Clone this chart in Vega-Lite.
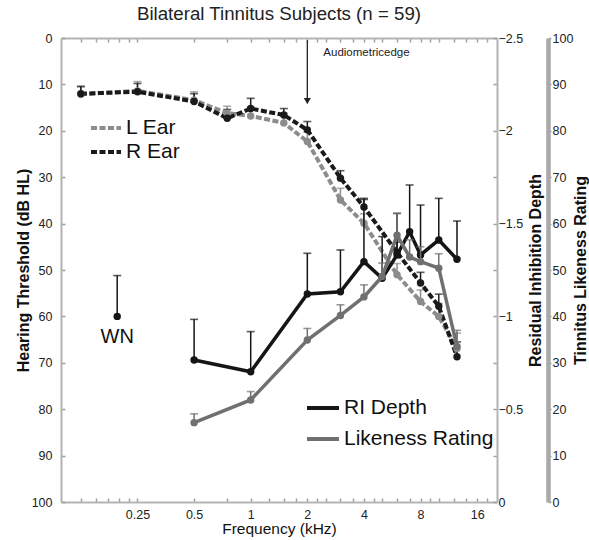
{
  "$schema": "https://vega.github.io/schema/vega-lite/v6.json",
  "width": 436,
  "height": 464,
  "autosize": {"type": "none"},
  "padding": {"left": 61, "top": 38, "right": 92, "bottom": 38},
  "background": "white",
  "title": {"text": "Bilateral Tinnitus Subjects (n = 59)", "fontSize": 18.7, "fontWeight": "normal", "font": "Liberation Sans", "color": "#222", "anchor": "middle", "frame": "group", "baseline": "bottom", "offset": -11},
  "config": {
    "view": {"stroke": null},
    "font": "Liberation Sans",
    "axis": {"grid": false, "domainColor": "#b3b3b3", "domainWidth": 2, "tickColor": "#a0a0a0", "tickWidth": 1.5, "labelColor": "#222", "titleColor": "#111", "labelFont": "Liberation Sans", "titleFont": "Liberation Sans"},
    "legend": {"labelFont": "Liberation Sans"}
  },
  "datasets": {
    "hear": [
      {"freq": 0.125, "ear": "L Ear", "thr": 12.1, "err": 10.3},
      {"freq": 0.25, "ear": "L Ear", "thr": 11.4, "err": 9.4},
      {"freq": 0.5, "ear": "L Ear", "thr": 13.4, "err": 11.6},
      {"freq": 0.75, "ear": "L Ear", "thr": 16.2, "err": 14.7},
      {"freq": 1, "ear": "L Ear", "thr": 16.8, "err": 14.9},
      {"freq": 1.5, "ear": "L Ear", "thr": 18.3, "err": 16.2},
      {"freq": 2, "ear": "L Ear", "thr": 22.3, "err": 20.3},
      {"freq": 3, "ear": "L Ear", "thr": 34.9, "err": 32.4},
      {"freq": 4, "ear": "L Ear", "thr": 39.9, "err": 37.9},
      {"freq": 6, "ear": "L Ear", "thr": 51.0, "err": 48.6},
      {"freq": 8, "ear": "L Ear", "thr": 56.8, "err": 54.3},
      {"freq": 10, "ear": "L Ear", "thr": 60.0, "err": 57.2},
      {"freq": 12.5, "ear": "L Ear", "thr": 66.9, "err": 63.6},
      {"freq": 0.125, "ear": "R Ear", "thr": 12.0, "err": 10.5},
      {"freq": 0.25, "ear": "R Ear", "thr": 11.6, "err": 9.8},
      {"freq": 0.5, "ear": "R Ear", "thr": 13.7, "err": 12.0},
      {"freq": 0.75, "ear": "R Ear", "thr": 17.3, "err": 15.4},
      {"freq": 1, "ear": "R Ear", "thr": 15.2, "err": 13.0},
      {"freq": 1.5, "ear": "R Ear", "thr": 16.6, "err": 15.2},
      {"freq": 2, "ear": "R Ear", "thr": 19.8, "err": 18.0},
      {"freq": 3, "ear": "R Ear", "thr": 30.2, "err": 28.6},
      {"freq": 4, "ear": "R Ear", "thr": 36.4, "err": 34.8},
      {"freq": 6, "ear": "R Ear", "thr": 46.2, "err": 44.0},
      {"freq": 8, "ear": "R Ear", "thr": 52.8, "err": 50.5},
      {"freq": 10, "ear": "R Ear", "thr": 57.8, "err": 55.2},
      {"freq": 12.5, "ear": "R Ear", "thr": 68.7, "err": 65.5}
    ],
    "depth": [
      {"freq": 0.195, "cond": "WN", "depth": -1.0, "errTop": -1.22},
      {"freq": 0.5, "cond": "tone", "depth": -0.765, "errTop": -0.984},
      {"freq": 1, "cond": "tone", "depth": -0.702, "errTop": -0.918},
      {"freq": 2, "cond": "tone", "depth": -1.121, "errTop": -1.34},
      {"freq": 3, "cond": "tone", "depth": -1.133, "errTop": -1.358},
      {"freq": 4, "cond": "tone", "depth": -1.295, "errTop": -1.636},
      {"freq": 5, "cond": "tone", "depth": -1.205, "errTop": -1.43},
      {"freq": 6, "cond": "tone", "depth": -1.331, "errTop": -1.555},
      {"freq": 7, "cond": "tone", "depth": -1.456, "errTop": -1.708},
      {"freq": 8, "cond": "tone", "depth": -1.331, "errTop": -1.6},
      {"freq": 10, "cond": "tone", "depth": -1.412, "errTop": -1.636},
      {"freq": 12.5, "cond": "tone", "depth": -1.308, "errTop": -1.514}
    ],
    "like": [
      {"freq": 0.5, "rating": 17.1, "errTop": 19.0},
      {"freq": 1, "rating": 22.0, "errTop": 23.8},
      {"freq": 2, "rating": 34.9, "errTop": 37.4},
      {"freq": 3, "rating": 40.2, "errTop": 42.5},
      {"freq": 4, "rating": 44.2, "errTop": 46.8},
      {"freq": 5, "rating": 48.6, "errTop": 51.5},
      {"freq": 6, "rating": 57.5, "errTop": 62.2},
      {"freq": 7, "rating": 52.8, "errTop": 56.5},
      {"freq": 8, "rating": 51.8, "errTop": 55.0},
      {"freq": 10, "rating": 50.4, "errTop": 53.5},
      {"freq": 12.5, "rating": 33.5, "errTop": 37.0}
    ],
    "note": [
      {"label": "Audiometricedge", "freq": 2}
    ]
  },
  "layer": [
    {
      "data": {"name": "hear"},
      "transform": [{"filter": "datum.ear === 'L Ear'"}],
      "mark": {"type": "rule", "color": "#8c8c8c", "strokeWidth": 1.5},
      "encoding": {
        "x": {"field": "freq", "type": "quantitative", "scale": {"type": "log", "domain": [0.098, 20.4], "nice": false}, "axis": null},
        "y": {"field": "thr", "type": "quantitative", "scale": {"domain": [0, 100], "reverse": true, "nice": false}, "axis": null},
        "y2": {"field": "err"}
      }
    },
    {
      "data": {"name": "hear"},
      "transform": [{"filter": "datum.ear === 'L Ear'"}],
      "mark": {"type": "tick", "orient": "horizontal", "color": "#8c8c8c", "size": 8, "thickness": 1.6},
      "encoding": {
        "x": {"field": "freq", "type": "quantitative", "scale": {"type": "log", "domain": [0.098, 20.4], "nice": false}, "axis": null},
        "y": {"field": "err", "type": "quantitative", "scale": {"domain": [0, 100], "reverse": true, "nice": false}, "axis": null}
      }
    },
    {
      "data": {"name": "hear"},
      "transform": [{"filter": "datum.ear === 'R Ear'"}],
      "mark": {"type": "rule", "color": "#1a1a1a", "strokeWidth": 1.5},
      "encoding": {
        "x": {"field": "freq", "type": "quantitative", "scale": {"type": "log", "domain": [0.098, 20.4], "nice": false}, "axis": null},
        "y": {"field": "thr", "type": "quantitative", "scale": {"domain": [0, 100], "reverse": true, "nice": false}, "axis": null},
        "y2": {"field": "err"}
      }
    },
    {
      "data": {"name": "hear"},
      "transform": [{"filter": "datum.ear === 'R Ear'"}],
      "mark": {"type": "tick", "orient": "horizontal", "color": "#1a1a1a", "size": 8, "thickness": 1.6},
      "encoding": {
        "x": {"field": "freq", "type": "quantitative", "scale": {"type": "log", "domain": [0.098, 20.4], "nice": false}, "axis": null},
        "y": {"field": "err", "type": "quantitative", "scale": {"domain": [0, 100], "reverse": true, "nice": false}, "axis": null}
      }
    },
    {
      "data": {"name": "hear"},
      "transform": [{"filter": "datum.ear === 'L Ear'"}],
      "mark": {"type": "line", "strokeWidth": 4, "strokeDash": [6, 2.5]},
      "encoding": {
        "x": {"field": "freq", "type": "quantitative", "scale": {"type": "log", "domain": [0.098, 20.4], "nice": false},
          "axis": {"orient": "bottom", "title": "Frequency (kHz)", "values": [0.125, 0.15, 0.175, 0.2, 0.225, 0.25, 0.5, 0.75, 1, 1.25, 1.5, 1.75, 2, 2.25, 2.5, 3, 3.5, 4, 4.5, 5, 6, 7, 8, 9, 10, 12, 14, 16, 18],
            "labelExpr": "indexof([0.25, 0.5, 1, 2, 4, 8, 16], datum.value) >= 0 ? format(datum.value, '~g') : ''",
            "labelOverlap": false, "labelFlush": false, "tickSize": -4, "labelPadding": 10, "labelFontSize": 12.5, "titleFontSize": 15.5, "titleFontWeight": "normal", "titlePadding": 1}},
        "y": {"field": "thr", "type": "quantitative", "scale": {"domain": [0, 100], "reverse": true, "nice": false},
          "axis": {"orient": "left", "title": "Hearing Threshold (dB HL)", "values": [0, 10, 20, 30, 40, 50, 60, 70, 80, 90, 100], "tickSize": -4, "labelPadding": 13, "labelFontSize": 12.5, "titleFontSize": 16, "titleFontWeight": "bold", "titlePadding": 0}},
        "color": {"field": "ear", "type": "nominal", "scale": {"domain": ["L Ear"], "range": ["#8c8c8c"]},
          "legend": {"orient": "none", "legendX": 28, "legendY": 73, "title": null, "padding": 0, "symbolType": "stroke", "symbolSize": 900, "symbolStrokeWidth": 4, "symbolDash": [6, 2.5], "labelFontSize": 21, "labelColor": "#111", "labelOffset": 3}}
      }
    },
    {
      "data": {"name": "hear"},
      "transform": [{"filter": "datum.ear === 'R Ear'"}],
      "mark": {"type": "line", "strokeWidth": 4, "strokeDash": [6, 2.5]},
      "encoding": {
        "x": {"field": "freq", "type": "quantitative", "scale": {"type": "log", "domain": [0.098, 20.4], "nice": false}, "axis": null},
        "y": {"field": "thr", "type": "quantitative", "scale": {"domain": [0, 100], "reverse": true, "nice": false}, "axis": null},
        "color": {"field": "ear", "type": "nominal", "scale": {"domain": ["R Ear"], "range": ["#1a1a1a"]},
          "legend": {"orient": "none", "legendX": 28, "legendY": 97, "title": null, "padding": 0, "symbolType": "stroke", "symbolSize": 900, "symbolStrokeWidth": 4, "symbolDash": [6, 2.5], "labelFontSize": 21, "labelColor": "#111", "labelOffset": 3}}
      }
    },
    {
      "data": {"name": "hear"},
      "transform": [{"filter": "datum.ear === 'L Ear'"}],
      "mark": {"type": "point", "filled": true, "size": 55, "color": "#8c8c8c", "opacity": 1},
      "encoding": {
        "x": {"field": "freq", "type": "quantitative", "scale": {"type": "log", "domain": [0.098, 20.4], "nice": false}, "axis": null},
        "y": {"field": "thr", "type": "quantitative", "scale": {"domain": [0, 100], "reverse": true, "nice": false}, "axis": null}
      }
    },
    {
      "data": {"name": "hear"},
      "transform": [{"filter": "datum.ear === 'R Ear'"}],
      "mark": {"type": "point", "filled": true, "size": 55, "color": "#1a1a1a", "opacity": 1},
      "encoding": {
        "x": {"field": "freq", "type": "quantitative", "scale": {"type": "log", "domain": [0.098, 20.4], "nice": false}, "axis": null},
        "y": {"field": "thr", "type": "quantitative", "scale": {"domain": [0, 100], "reverse": true, "nice": false}, "axis": null}
      }
    },
    {
      "data": {"name": "note"},
      "mark": {"type": "rule", "color": "#222", "strokeWidth": 1.3},
      "encoding": {
        "x": {"field": "freq", "type": "quantitative", "scale": {"type": "log", "domain": [0.098, 20.4], "nice": false}, "axis": null},
        "y": {"datum": 0.5, "type": "quantitative", "scale": {"domain": [0, 100], "reverse": true, "nice": false}, "axis": null},
        "y2": {"datum": 13}
      }
    },
    {
      "data": {"name": "note"},
      "mark": {"type": "point", "shape": "triangle-down", "filled": true, "size": 50, "color": "#222", "opacity": 1},
      "encoding": {
        "x": {"field": "freq", "type": "quantitative", "scale": {"type": "log", "domain": [0.098, 20.4], "nice": false}, "axis": null},
        "y": {"datum": 13.6, "type": "quantitative", "scale": {"domain": [0, 100], "reverse": true, "nice": false}, "axis": null}
      }
    },
    {
      "data": {"name": "note"},
      "mark": {"type": "text", "align": "left", "baseline": "middle", "dx": 16, "fontSize": 11.5, "color": "#222"},
      "encoding": {
        "x": {"field": "freq", "type": "quantitative", "scale": {"type": "log", "domain": [0.098, 20.4], "nice": false},
          "axis": {"orient": "top", "title": null, "labels": false, "values": [0.125, 0.15, 0.175, 0.2, 0.225, 0.25, 0.5, 0.75, 1, 1.25, 1.5, 1.75, 2, 2.25, 2.5, 3, 3.5, 4, 4.5, 5, 6, 7, 8, 9, 10, 12, 14, 16, 18], "tickSize": -4}},
        "y": {"datum": 3.3, "type": "quantitative", "scale": {"domain": [0, 100], "reverse": true, "nice": false}, "axis": null},
        "text": {"field": "label"}
      }
    },
    {
      "data": {"name": "depth"},
      "mark": {"type": "rule", "color": "#151515", "strokeWidth": 1.5},
      "encoding": {
        "x": {"field": "freq", "type": "quantitative", "scale": {"type": "log", "domain": [0.098, 20.4], "nice": false}, "axis": null},
        "y": {"field": "depth", "type": "quantitative", "scale": {"domain": [0, -2.5], "nice": false, "zero": false}, "axis": null},
        "y2": {"field": "errTop"}
      }
    },
    {
      "data": {"name": "depth"},
      "mark": {"type": "tick", "orient": "horizontal", "color": "#151515", "size": 8, "thickness": 1.6},
      "encoding": {
        "x": {"field": "freq", "type": "quantitative", "scale": {"type": "log", "domain": [0.098, 20.4], "nice": false}, "axis": null},
        "y": {"field": "errTop", "type": "quantitative", "scale": {"domain": [0, -2.5], "nice": false, "zero": false}, "axis": null}
      }
    },
    {
      "data": {"name": "depth"},
      "transform": [{"filter": "datum.cond === 'tone'"}],
      "mark": {"type": "line", "strokeWidth": 3.5},
      "encoding": {
        "x": {"field": "freq", "type": "quantitative", "scale": {"type": "log", "domain": [0.098, 20.4], "nice": false}, "axis": null},
        "y": {"field": "depth", "type": "quantitative", "scale": {"domain": [0, -2.5], "nice": false, "zero": false},
          "axis": {"orient": "right", "title": "Residual Inhibition Depth", "values": [-2.5, -2.25, -2, -1.75, -1.5, -1.25, -1, -0.75, -0.5, -0.25, 0],
            "labelExpr": "datum.value == 0 ? '0' : (datum.value * 2 == round(datum.value * 2) ? '\u2212' + format(-datum.value, '~g') : '')",
            "labelOverlap": false, "labelFlush": false, "tickSize": -4, "labelPadding": 5, "labelFontSize": 12.5, "titleFontSize": 16, "titleFontWeight": "bold", "titleAngle": 270, "titleBaseline": "top", "titlePadding": 5}},
        "color": {"datum": "RI Depth", "type": "nominal", "scale": {"range": ["#151515"]},
          "legend": {"orient": "none", "legendX": 244, "legendY": 352, "title": null, "padding": 0, "symbolType": "stroke", "symbolSize": 1024, "symbolStrokeWidth": 4, "labelFontSize": 21, "labelColor": "#111", "labelOffset": 3}}
      }
    },
    {
      "data": {"name": "depth"},
      "mark": {"type": "point", "filled": true, "size": 55, "color": "#151515", "opacity": 1},
      "encoding": {
        "x": {"field": "freq", "type": "quantitative", "scale": {"type": "log", "domain": [0.098, 20.4], "nice": false}, "axis": null},
        "y": {"field": "depth", "type": "quantitative", "scale": {"domain": [0, -2.5], "nice": false, "zero": false}, "axis": null}
      }
    },
    {
      "data": {"name": "depth"},
      "transform": [{"filter": "datum.cond === 'WN'"}],
      "mark": {"type": "text", "baseline": "middle", "align": "center", "dy": 21, "fontSize": 20, "color": "#111"},
      "encoding": {
        "x": {"field": "freq", "type": "quantitative", "scale": {"type": "log", "domain": [0.098, 20.4], "nice": false}, "axis": null},
        "y": {"field": "depth", "type": "quantitative", "scale": {"domain": [0, -2.5], "nice": false, "zero": false}, "axis": null},
        "text": {"field": "cond"}
      }
    },
    {
      "data": {"name": "like"},
      "mark": {"type": "rule", "color": "#707070", "strokeWidth": 1.5},
      "encoding": {
        "x": {"field": "freq", "type": "quantitative", "scale": {"type": "log", "domain": [0.098, 20.4], "nice": false}, "axis": null},
        "y": {"field": "rating", "type": "quantitative", "scale": {"domain": [0, 100], "nice": false}, "axis": null},
        "y2": {"field": "errTop"}
      }
    },
    {
      "data": {"name": "like"},
      "mark": {"type": "tick", "orient": "horizontal", "color": "#707070", "size": 8, "thickness": 1.6},
      "encoding": {
        "x": {"field": "freq", "type": "quantitative", "scale": {"type": "log", "domain": [0.098, 20.4], "nice": false}, "axis": null},
        "y": {"field": "errTop", "type": "quantitative", "scale": {"domain": [0, 100], "nice": false}, "axis": null}
      }
    },
    {
      "data": {"name": "like"},
      "mark": {"type": "line", "strokeWidth": 3.5},
      "encoding": {
        "x": {"field": "freq", "type": "quantitative", "scale": {"type": "log", "domain": [0.098, 20.4], "nice": false}, "axis": null},
        "y": {"field": "rating", "type": "quantitative", "scale": {"domain": [0, 100], "nice": false},
          "axis": {"orient": "right", "offset": 51, "title": "Tinnitus Likeness Rating", "values": [0, 10, 20, 30, 40, 50, 60, 70, 80, 90, 100],
            "labelOverlap": false, "labelFlush": false, "domainWidth": 4.5, "domainColor": "#a9a9a9", "tickSize": 3, "labelPadding": 1, "labelFontSize": 12.5, "titleFontSize": 16, "titleFontWeight": "bold", "titleAngle": 270, "titleBaseline": "top", "titlePadding": 0}},
        "color": {"datum": "Likeness Rating", "type": "nominal", "scale": {"range": ["#707070"]},
          "legend": {"orient": "none", "legendX": 244, "legendY": 383, "title": null, "padding": 0, "symbolType": "stroke", "symbolSize": 1024, "symbolStrokeWidth": 4, "labelFontSize": 21, "labelColor": "#111", "labelOffset": 3}}
      }
    },
    {
      "data": {"name": "like"},
      "mark": {"type": "point", "filled": true, "size": 55, "color": "#707070", "opacity": 1},
      "encoding": {
        "x": {"field": "freq", "type": "quantitative", "scale": {"type": "log", "domain": [0.098, 20.4], "nice": false}, "axis": null},
        "y": {"field": "rating", "type": "quantitative", "scale": {"domain": [0, 100], "nice": false}, "axis": null}
      }
    }
  ],
  "resolve": {"scale": {"y": "independent", "color": "independent"}}
}
